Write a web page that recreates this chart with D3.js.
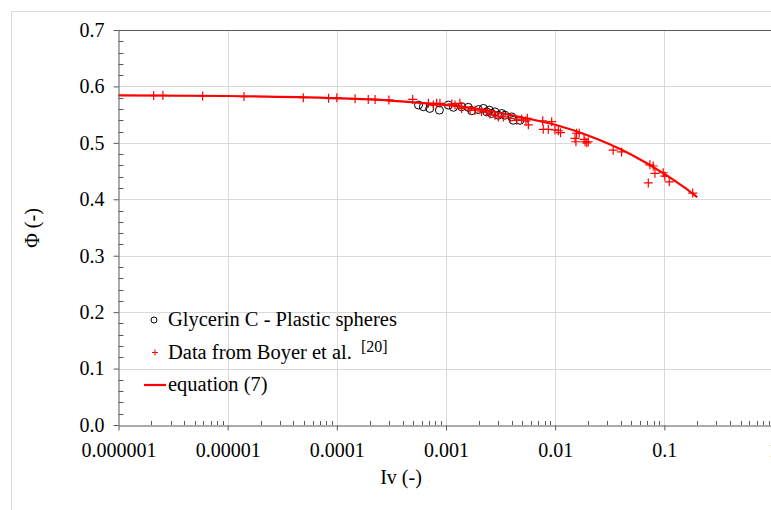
<!DOCTYPE html>
<html lang="en">
<head>
    <meta charset="UTF-8">
    <title>Phi vs Iv</title>
    <script src="https://d3js.org/d3.v7.min.js"></script>
    <style>
        body {
            margin: 0;
            padding: 0;
            background: #fff;
        }

        svg text {
            font-family: "Liberation Serif", "DejaVu Serif", serif;
            fill: #000;
        }
    </style>
</head>
<body>
    <svg id="chart" width="771" height="510"></svg>

    <script>
        // Glycerin C - Plastic spheres (Iv, Phi)
        const glycerinIv = [5.6e-4, 6.2e-4, 7.1e-4, 8.7e-4, 1.05e-3, 1.17e-3, 1.39e-3, 1.6e-3, 1.72e-3, 1.98e-3,
            2.2e-3, 2.36e-3, 2.49e-3, 2.62e-3, 2.81e-3, 3.01e-3, 3.24e-3, 3.47e-3, 4.0e-3, 4.13e-3, 4.76e-3];
        const glycerinPhi = [0.567, 0.564, 0.561, 0.558, 0.567, 0.563, 0.564, 0.563, 0.557, 0.559,
            0.561, 0.555, 0.558, 0.552, 0.555, 0.549, 0.552, 0.549, 0.546, 0.540, 0.540];

        // Data from Boyer et al. [20]
        const boyerIv = [2.1e-6, 2.55e-6, 5.9e-6, 1.41e-5, 4.93e-5, 8.4e-5, 1.0e-4, 1.47e-4, 1.94e-4, 2.24e-4, 3.0e-4,
            4.95e-4, 6.9e-4, 7.65e-4, 8.2e-4, 8.8e-4, 1.13e-3, 1.21e-3, 1.34e-3, 1.39e-3,
            1.66e-3, 1.85e-3, 2.12e-3, 2.36e-3, 2.53e-3, 2.81e-3, 3.01e-3, 3.35e-3, 3.86e-3, 4.44e-3, 4.93e-3, 5.4e-3,
            5.56e-3, 5.68e-3, 7.69e-3, 9.29e-3, 7.78e-3, 8.65e-3, 9.96e-3, 1.07e-2, 1.12e-2,
            1.57e-2, 1.66e-2, 1.52e-2, 1.55e-2, 1.84e-2, 1.88e-2, 1.95e-2, 2.01e-2,
            3.4e-2, 4.06e-2, 7.38e-2, 7.91e-2, 8.2e-2, 7.13e-2, 9.77e-2, 1.01e-1, 1.11e-1, 1.82e-1];
        const boyerPhi = [0.584, 0.584, 0.583, 0.582, 0.580, 0.579, 0.580, 0.578, 0.577, 0.577, 0.576,
            0.577, 0.570, 0.567, 0.570, 0.570, 0.569, 0.567, 0.570, 0.561,
            0.558, 0.558, 0.555, 0.555, 0.551, 0.549, 0.546, 0.546, 0.5435, 0.540, 0.542, 0.539,
            0.5435, 0.532, 0.539, 0.5375, 0.524, 0.524, 0.523, 0.5215, 0.518,
            0.517, 0.517, 0.508, 0.502, 0.506, 0.502, 0.500, 0.502,
            0.487, 0.484, 0.461, 0.459, 0.446, 0.429, 0.447, 0.441, 0.431, 0.411];

        // equation (7), points
        const eqIv = [1e-6, 1e-5, 1e-4, 3e-4, 1e-3, 2e-3, 5e-3, 1e-2, 2e-2, 5e-2, 1e-1, 1.5e-1, 2e-1];
        const eqPhi = [0.584, 0.583, 0.579, 0.575, 0.567, 0.560, 0.545, 0.532, 0.513, 0.479, 0.445, 0.422, 0.404];

        const xTicks = [1e-6, 1e-5, 1e-4, 1e-3, 1e-2, 1e-1, 1];
        const xTickLabels = ["0.000001", "0.00001", "0.0001", "0.001", "0.01", "0.1", "1"];
        const yTicks = [0, 0.1, 0.2, 0.3, 0.4, 0.5, 0.6, 0.7];

        const legendLabels = ["Glycerin C - Plastic spheres", "Data from Boyer et al.", "equation (7)"];

        const svg = d3.select("#chart");
        const axisColor = "#595959";
        const gridColor = "#d9d9d9";
        const fontSize = "20px";

        const x = d3.scaleLog().domain([1e-6, 1]).range([118.5, 773.5]);
        const y = d3.scaleLinear().domain([0, 0.7]).range([425, 30]);

        // chart frame
        svg.append("path")
            .attr("d", "M11.5,510 V11.5 H771")
            .attr("fill", "none")
            .attr("stroke", gridColor);

        // gridlines
        svg.append("g")
            .selectAll("line")
            .data(yTicks.slice(1, -1))
            .enter().append("line")
            .attr("x1", x(1e-6)).attr("x2", 771)
            .attr("y1", d => Math.round(y(d)) + 0.5).attr("y2", d => Math.round(y(d)) + 0.5)
            .attr("stroke", gridColor);

        svg.append("g")
            .selectAll("line")
            .data(xTicks.slice(1))
            .enter().append("line")
            .attr("x1", d => Math.round(x(d)) + 0.5).attr("x2", d => Math.round(x(d)) + 0.5)
            .attr("y1", y(0.7)).attr("y2", y(0))
            .attr("stroke", gridColor);

        // top border of plot area
        svg.append("line")
            .attr("x1", x(1e-6)).attr("x2", 771)
            .attr("y1", y(0.7) + 0.5).attr("y2", y(0.7) + 0.5)
            .attr("stroke", axisColor);

        // x axis
        const minorX = [];
        for (let e = -6; e < 0; e++) {
            for (let m = 2; m <= 9; m++) minorX.push(m * Math.pow(10, e));
        }

        const xAxis = svg.append("g")
            .attr("transform", `translate(0,${y(0) + 0.5})`)
            .call(d3.axisBottom(x).tickValues(xTicks).tickSize(5).tickSizeOuter(0)
                .tickFormat((d, i) => xTickLabels[i]));
        xAxis.select(".domain").attr("stroke", axisColor);
        xAxis.selectAll(".tick line").attr("stroke", axisColor);
        xAxis.selectAll(".tick text")
            .attr("dy", "1.15em")
            .style("font-size", fontSize);

        svg.append("g")
            .selectAll("line")
            .data(minorX)
            .enter().append("line")
            .attr("x1", d => Math.round(x(d)) + 0.5).attr("x2", d => Math.round(x(d)) + 0.5)
            .attr("y1", y(0)).attr("y2", y(0) - 4)
            .attr("stroke", axisColor);

        // y axis
        const yAxis = svg.append("g")
            .attr("transform", `translate(${x(1e-6)},0)`)
            .call(d3.axisLeft(y).tickValues(yTicks).tickSize(5).tickSizeOuter(0)
                .tickFormat(d3.format(".1f")));
        yAxis.select(".domain").attr("stroke", axisColor);
        yAxis.selectAll(".tick line").attr("stroke", axisColor);
        yAxis.selectAll(".tick text")
            .attr("x", -14)
            .style("font-size", fontSize);

        const minorY = d3.range(0, 70).filter(v => v % 2 === 0 && v % 10 !== 0).map(v => v / 100);
        svg.append("g")
            .selectAll("line")
            .data(minorY)
            .enter().append("line")
            .attr("x1", x(1e-6)).attr("x2", x(1e-6) + 5)
            .attr("y1", d => Math.round(y(d)) + 0.5).attr("y2", d => Math.round(y(d)) + 0.5)
            .attr("stroke", axisColor);

        // axis titles
        svg.append("text")
            .attr("x", 401).attr("y", 484)
            .attr("text-anchor", "middle")
            .style("font-size", fontSize)
            .text("Iv (-)");

        svg.append("text")
            .attr("transform", "translate(39,228) rotate(-90)")
            .attr("text-anchor", "middle")
            .style("font-size", fontSize)
            .text("Φ (-)");

        // glycerin circles
        svg.append("g")
            .selectAll("circle")
            .data(glycerinIv)
            .enter().append("circle")
            .attr("cx", d => x(d))
            .attr("cy", (d, i) => y(glycerinPhi[i]))
            .attr("r", 4)
            .attr("fill", "none")
            .attr("stroke", "#000")
            .attr("stroke-width", 1);

        // Boyer plus markers
        svg.append("g")
            .selectAll("path")
            .data(boyerIv)
            .enter().append("path")
            .attr("transform", (d, i) => `translate(${x(d)},${y(boyerPhi[i])})`)
            .attr("d", "M-4.5,0H4.5M0,-4.5V4.5")
            .attr("stroke", "#ff0000")
            .attr("stroke-width", 1.2)
            .attr("fill", "none");

        // equation line
        const line = d3.line()
            .x(d => x(d[0]))
            .y(d => y(d[1]))
            .curve(d3.curveMonotoneX);

        svg.append("path")
            .datum(eqIv.map((d, i) => [d, eqPhi[i]]))
            .attr("d", line)
            .attr("fill", "none")
            .attr("stroke", "#ff0000")
            .attr("stroke-width", 2.2);

        // legend
        const legend = svg.append("g");
        const legendY = [320, 352.5, 385];

        legend.append("circle")
            .attr("cx", 154).attr("cy", legendY[0])
            .attr("r", 3)
            .attr("fill", "none")
            .attr("stroke", "#000");

        legend.append("path")
            .attr("transform", `translate(155,${legendY[1]})`)
            .attr("d", "M-3,0H3M0,-3V3")
            .attr("stroke", "#ff0000")
            .attr("stroke-width", 1);

        legend.append("line")
            .attr("x1", 144).attr("x2", 166)
            .attr("y1", legendY[2]).attr("y2", legendY[2])
            .attr("stroke", "#ff0000")
            .attr("stroke-width", 2.2);

        legend.selectAll("text.lab")
            .data(legendLabels)
            .enter().append("text")
            .attr("x", 168)
            .attr("y", (d, i) => legendY[i] + 6)
            .style("font-size", "20.5px")
            .text(d => d);

        legend.append("text")
            .attr("x", 361).attr("y", legendY[1] - 1)
            .style("font-size", "16px")
            .text("[20]");
    </script>
</body>
</html>
